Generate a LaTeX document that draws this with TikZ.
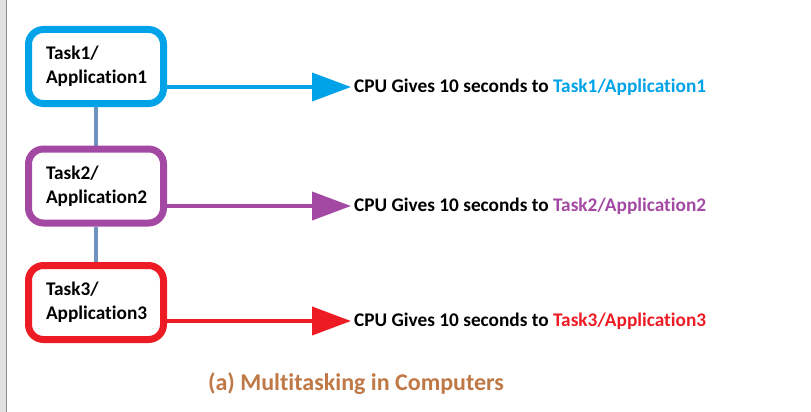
\documentclass[tikz,border=0pt]{standalone}
\usepackage{fontspec}
\setmainfont{Carlito}[Ligatures=NoCommon]
\usetikzlibrary{arrows.meta,backgrounds}
\definecolor{taskblue}{RGB}{0,162,232}
\definecolor{taskpurple}{RGB}{163,73,164}
\definecolor{taskred}{RGB}{237,28,36}
\definecolor{linkgray}{RGB}{112,146,190}
\definecolor{captionbrown}{RGB}{191,121,70}
\tikzset{
  taskbox/.style={draw=#1,line width=7pt,rounded corners=15pt,fill=white,
    minimum width=135pt,minimum height=74pt,text width=100pt,align=left,
    font=\fontsize{19.3}{24}\selectfont\bfseries},
  gives/.style={anchor=west,inner sep=3pt,font=\fontsize{19.3}{22}\selectfont\bfseries},
  givearrow/.style={draw=#1,line width=4pt,-{Triangle[length=39pt,width=28pt]}}
}
\begin{document}
\begin{tikzpicture}[x=1pt,y=-1pt]
  \useasboundingbox (0,0) rectangle (811,412);
  \fill[black!12] (0,0) rectangle (6,412);
  \draw[black!45,line width=1.5pt] (6.5,0) -- (6.5,412);

  \node[taskbox=taskblue]   (b1) at (96,66.5)  {Task1/\\Application1};
  \node[taskbox=taskpurple] (b2) at (96,186)   {Task2/\\Application2};
  \node[taskbox=taskred]    (b3) at (96,302.5) {Task3/\\Application3};
  \begin{pgfonlayer}{background}
    \draw[linkgray,line width=4pt] (b1.south) -- (b2.north);
    \draw[linkgray,line width=4pt] (b2.south) -- (b3.north);
  \end{pgfonlayer}

  \node[gives] (t1) at (351,87)  {CPU Gives 10 seconds to \textcolor{taskblue}{Task1/Application1}};
  \node[gives] (t2) at (351,206) {CPU Gives 10 seconds to \textcolor{taskpurple}{Task2/Application2}};
  \node[gives] (t3) at (351,321) {CPU Gives 10 seconds to \textcolor{taskred}{Task3/Application3}};

  \draw[givearrow=taskblue]   (b1.east |- t1.west) -- (t1.west);
  \draw[givearrow=taskpurple] (b2.east |- t2.west) -- (t2.west);
  \draw[givearrow=taskred]    (b3.east |- t3.west) -- (t3.west);

  \node[text=captionbrown,font=\fontsize{24}{28}\selectfont\bfseries] (cap) at (356,384) {(a) Multitasking in Computers};
\end{tikzpicture}
\end{document}
